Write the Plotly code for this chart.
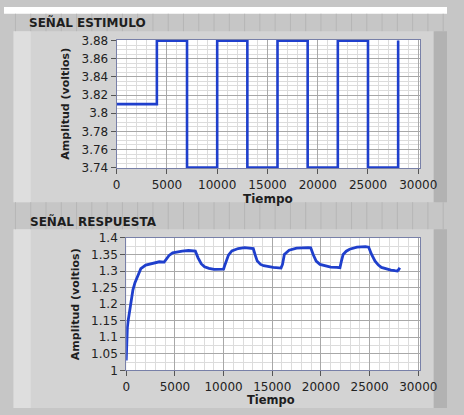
import plotly.graph_objects as go

# ---------------- data ----------------
stim_t = [0, 4000, 7000, 10000, 13000, 16000, 19000, 22000, 25000, 28000]
stim_v = [3.81, 3.88, 3.74, 3.88, 3.74, 3.88, 3.74, 3.88, 3.74, 3.88]

resp_t = [0, 50, 120, 200, 360, 520, 690, 900, 1180, 1500, 2000, 2800, 3400, 3900,
          4100, 4400, 4770, 5200, 5750, 6400, 7000,
          7100, 7380, 7700, 8040, 8500, 9020, 9600, 10000,
          10100, 10200, 10500, 10850, 11500, 12160, 12800, 13050,
          13250, 13460, 13800, 14120, 15100, 15900,
          16050, 16240, 16730, 17500, 18690, 18950,
          19200, 19510, 19900, 20330, 21000, 21630, 21950,
          22100, 22280, 22600, 22940, 23700, 24570, 24900,
          25200, 25560, 25900, 26210, 26700, 27190, 27600, 27840, 27950, 28100]
resp_v = [1.03, 1.08, 1.13, 1.15, 1.185, 1.214, 1.243, 1.265, 1.287, 1.307, 1.318, 1.325, 1.328, 1.327,
          1.335, 1.347, 1.355, 1.358, 1.360, 1.362, 1.362,
          1.360, 1.340, 1.322, 1.313, 1.308, 1.305, 1.305, 1.306,
          1.315, 1.325, 1.348, 1.361, 1.368, 1.371, 1.370, 1.368,
          1.348, 1.330, 1.320, 1.316, 1.311, 1.309,
          1.320, 1.350, 1.363, 1.369, 1.371, 1.370,
          1.350, 1.330, 1.320, 1.316, 1.312, 1.311, 1.310,
          1.330, 1.350, 1.360, 1.366, 1.372, 1.374, 1.372,
          1.350, 1.330, 1.318, 1.311, 1.306, 1.303, 1.301, 1.300, 1.303, 1.310]

x_ticks = [0, 5000, 10000, 15000, 20000, 25000, 30000]
stim_ticks = [3.74, 3.76, 3.78, 3.8, 3.82, 3.84, 3.86, 3.88]
stim_ticklabels = ["3.74", "3.76", "3.78", "3.8", "3.82", "3.84", "3.86", "3.88"]
resp_ticks = [1, 1.05, 1.1, 1.15, 1.2, 1.25, 1.3, 1.35, 1.4]
resp_ticklabels = ["1", "1.05", "1.1", "1.15", "1.2", "1.25", "1.3", "1.35", "1.4"]

# ---------------- figure ----------------
W, H = 464, 415
LINE = "#1f3fcc"
FONT = "DejaVu Sans"

def px(x):
    return x / W

def py(y):
    return 1 - y / H

fig = go.Figure()
fig.add_trace(go.Scatter(x=stim_t, y=stim_v, mode="lines", line=dict(color=LINE, width=2.6, shape="hv"),
                         xaxis="x", yaxis="y", showlegend=False, hoverinfo="skip"))
fig.add_trace(go.Scatter(x=resp_t, y=resp_v, mode="lines", line=dict(color=LINE, width=2.8),
                         xaxis="x2", yaxis="y2", showlegend=False, hoverinfo="skip"))

tickfont = dict(family=FONT, size=12, color="#222")
common_x = dict(range=[0, 30200], tickvals=x_ticks, ticktext=[str(v) for v in x_ticks],
                ticks="outside", ticklen=5, tickcolor="#555", tickfont=tickfont,
                showline=True, linecolor="#7880a8", linewidth=1, mirror=True,
                showgrid=True, gridcolor="#a8a8a8", gridwidth=1, zeroline=False,
                minor=dict(dtick=1000, showgrid=True, gridcolor="#dcdcdc", ticks=""))
B_TOP, B_BOT = 239, 376
fig.update_layout(
    width=W, height=H,
    margin=dict(l=0, r=0, t=0, b=0),
    paper_bgcolor="#c6c6c6", plot_bgcolor="white",
    xaxis=dict(domain=[px(118), px(436)], anchor="y", **common_x),
    xaxis2=dict(domain=[px(128), px(436)], anchor="y2", **common_x),
    yaxis=dict(domain=[py(167), py(34)], anchor="x", range=[3.7392, 3.8808],
               tickvals=stim_ticks, ticktext=stim_ticklabels,
               ticks="outside", ticklen=5, tickcolor="#555", tickfont=tickfont,
               showline=True, linecolor="#7880a8", linewidth=1, mirror=True,
               showgrid=True, gridcolor="#a8a8a8", zeroline=False,
               minor=dict(dtick=0.005, showgrid=True, gridcolor="#dcdcdc", ticks="")),
    yaxis2=dict(domain=[py(B_BOT), py(B_TOP)], anchor="x2", range=[1, 1.4],
                tickvals=resp_ticks, ticktext=resp_ticklabels,
                ticks="outside", ticklen=5, tickcolor="#555", tickfont=tickfont,
                showline=True, linecolor="#7880a8", linewidth=1, mirror=True,
                showgrid=True, gridcolor="#a8a8a8", zeroline=False,
                minor=dict(dtick=0.025, showgrid=True, gridcolor="#dcdcdc", ticks="")),
)

# ---------------- decorative frame ----------------
shapes = []
def rect(x0, y0, x1, y1, color):
    shapes.append(dict(type="rect", xref="paper", yref="paper", x0=px(x0), x1=px(x1),
                       y0=py(y1), y1=py(y0), fillcolor=color, line=dict(width=0), layer="below"))

rect(0, 0, W, 7, "white")
# panels
for (y0, y1) in [(25, 202), (230, 415)]:
    rect(10, y0, 452, y1, "#d3d3d3")
    rect(10, y0, 28, y1, "#dedede")
    rect(450, y0, 464, y1, "#b2b2b2")
# background vertical pattern in header bands
for (y0, y1) in [(7, 25), (202, 230)]:
    for xx in range(12, W, 16):
        shapes.append(dict(type="line", xref="paper", yref="paper", x0=px(xx), x1=px(xx),
                           y0=py(y1), y1=py(y0), line=dict(color="#b6b6b6", width=1), layer="below"))
# white plot areas (panels would otherwise cover plot background)
rect(118, 34, 436, 167, "white")
rect(128, B_TOP, 436, B_BOT, "white")
fig.update_layout(shapes=shapes)

ann = []
def text(x, y, s, size, bold=True, angle=0, xanchor="center", yanchor="middle"):
    ann.append(dict(xref="paper", yref="paper", x=px(x), y=py(y), text=("<b>%s</b>" % s) if bold else s,
                    showarrow=False, textangle=angle, xanchor=xanchor, yanchor=yanchor, borderpad=0,
                    font=dict(family=FONT, size=size, color="#1e1e1e")))

text(25, 16, "SEÑAL ESTIMULO", 12, xanchor="left")
text(26, 222, "SEÑAL RESPUESTA", 12, xanchor="left")
text(276, 199, "Tiempo", 12)
text(280, 415, "Tiempo", 11.5, yanchor="bottom")
text(65, 100, "Amplitud (voltios)", 11, angle=-90)
text(75, 308, "Amplitud (voltios)", 11, angle=-90)
fig.update_layout(annotations=ann)

fig.write_html("out.html")
